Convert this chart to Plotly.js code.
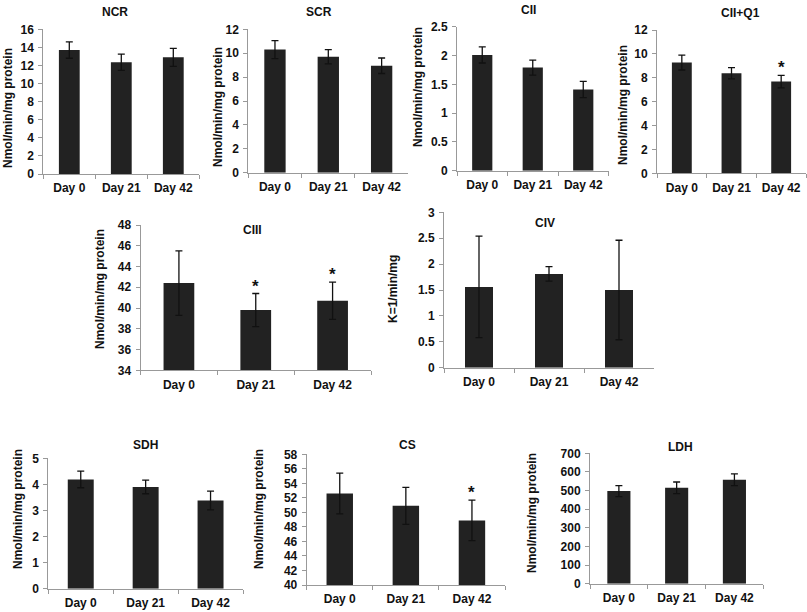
<!DOCTYPE html>
<html>
<head>
<meta charset="utf-8">
<script src="https://cdn.plot.ly/plotly-3.0.1.min.js"></script>
<style>html,body{margin:0;padding:0;background:#fff;}#chart{width:807px;height:612px;}</style>
</head>
<body>
<div id="chart"></div>
<script>
// ---- Data ----
const days = ['Day 0', 'Day 21', 'Day 42'];

const ncr = [13.7, 12.35, 12.9];
const ncrErr = [0.9, 0.9, 1.0];

const scr = [10.3, 9.7, 8.95];
const scrErr = [0.75, 0.6, 0.65];

const cii = [2.01, 1.79, 1.41];
const ciiErr = [0.14, 0.13, 0.14];

const ciiQ1 = [9.27, 8.38, 7.68];
const ciiQ1Err = [0.62, 0.47, 0.52];

const ciii = [42.4, 39.8, 40.7];
const ciiiErr = [3.1, 1.6, 1.8];

const civ = [1.56, 1.81, 1.5];
const civErr = [0.98, 0.14, 0.96];

const sdh = [4.19, 3.9, 3.38];
const sdhErr = [0.32, 0.26, 0.36];

const cs = [52.6, 50.9, 48.9];
const csErr = [2.8, 2.55, 2.8];

const ldh = [497, 515, 558];
const ldhErr = [30, 31, 32];

const titles = ['NCR', 'SCR', 'CII', 'CII+Q1', 'CIII', 'CIV', 'SDH', 'CS', 'LDH'];
const yLabels = ['Nmol/min/mg protein', 'Nmol/min/mg protein', 'Nmol/min/mg protein', 'Nmol/min/mg protein',
                 'Nmol/min/mg protein', 'K=1/min/mg', 'Nmol/min/mg protein', 'Nmol/min/mg protein', 'Nmol/min/mg protein'];
const values = [ncr, scr, cii, ciiQ1, ciii, civ, sdh, cs, ldh];
const errors = [ncrErr, scrErr, ciiErr, ciiQ1Err, ciiiErr, civErr, sdhErr, csErr, ldhErr];
// significance markers (indices into days)
const stars = [[], [], [], [2], [1, 2], [], [], [2], []];
const yRanges = [[0, 16], [0, 12], [0, 2.5], [0, 12], [34, 48], [0, 3], [0, 5], [40, 58], [0, 700]];
const yDticks = [2, 2, 0.5, 2, 2, 0.5, 1, 2, 100];

// ---- Layout geometry (pixels) ----
const W = 807, H = 612;
const geom = [
  {x: [43.3, 199.3], y: [29.3, 174],   t: [115, 12],  yl: [8, 108]},
  {x: [248.3, 408.3], y: [29.3, 172.7], t: [319, 12],  yl: [218, 107]},
  {x: [457, 608.5], y: [26.7, 170.7],   t: [528, 10],  yl: [418, 87]},
  {x: [657, 806], y: [30, 173.3],       t: [740, 13],  yl: [623, 105]},
  {x: [140.5, 371], y: [225, 370.3],    t: [252, 230], yl: [100, 289]},
  {x: [444, 654], y: [212.3, 367.7],    t: [545, 223], yl: [393, 289]},
  {x: [48.3, 243], y: [458.3, 588.7],   t: [145, 445], yl: [18, 509]},
  {x: [306.7, 505], y: [454.3, 585],    t: [408, 445], yl: [259, 509]},
  {x: [590, 763.3], y: [453.3, 583.7],  t: [680, 447], yl: [532, 513]}
];

const FONT = 'Liberation Sans, Arial, sans-serif';
const tickFont = {family: FONT, size: 12, color: '#111', weight: 'bold'};
const axisGray = '#999';

const traces = [];
const layout = {
  width: W, height: H,
  margin: {l: 0, r: 0, t: 0, b: 0},
  paper_bgcolor: '#fff', plot_bgcolor: '#fff',
  showlegend: false,
  bargap: 0.6,
  annotations: []
};

values.forEach((vals, i) => {
  const n = i === 0 ? '' : String(i + 1);
  const g = geom[i];
  traces.push({
    type: 'bar', x: days, y: vals,
    xaxis: 'x' + n, yaxis: 'y' + n,
    marker: {color: '#222', line: {width: 0}},
    error_y: {type: 'data', array: errors[i], visible: true, color: '#111', thickness: 1.3, width: 3.5},
    hoverinfo: 'none'
  });
  layout['xaxis' + n] = {
    domain: [g.x[0] / W, g.x[1] / W], anchor: 'y' + n,
    type: 'category', range: [-0.5, 2.5],
    showline: true, linecolor: axisGray, linewidth: 1,
    ticks: 'outside', tickson: 'boundaries', ticklen: 4, tickcolor: axisGray,
    ticklabelstandoff: 3,
    showgrid: false, zeroline: false, tickfont: tickFont, fixedrange: true
  };
  layout['yaxis' + n] = {
    domain: [1 - g.y[1] / H, 1 - g.y[0] / H], anchor: 'x' + n,
    range: yRanges[i], dtick: yDticks[i], tick0: yRanges[i][0],
    showline: true, linecolor: axisGray, linewidth: 1,
    ticks: 'outside', ticklen: 4, tickcolor: axisGray,
    ticklabelstandoff: 2,
    showgrid: false, zeroline: false, tickfont: tickFont, fixedrange: true
  };
  layout.annotations.push({
    text: titles[i], xref: 'paper', yref: 'paper',
    x: g.t[0] / W, y: 1 - g.t[1] / H, xanchor: 'center', yanchor: 'middle',
    showarrow: false, font: {family: FONT, size: 12, color: '#111', weight: 'bold'}
  });
  layout.annotations.push({
    text: yLabels[i], xref: 'paper', yref: 'paper', textangle: -90,
    x: g.yl[0] / W, y: 1 - g.yl[1] / H, xanchor: 'center', yanchor: 'middle',
    showarrow: false, font: {family: FONT, size: 12, color: '#111', weight: 'bold'}
  });
  stars[i].forEach(k => {
    layout.annotations.push({
      text: '*', xref: 'x' + n, yref: 'y' + n,
      x: days[k], y: vals[k] + errors[i][k], xanchor: 'center', yanchor: 'bottom',
      yshift: -4, showarrow: false, font: {family: FONT, size: 17, color: '#111', weight: 'bold'}
    });
  });
});

Plotly.newPlot('chart', traces, layout, {staticPlot: true, displayModeBar: false});
</script>
</body>
</html>
